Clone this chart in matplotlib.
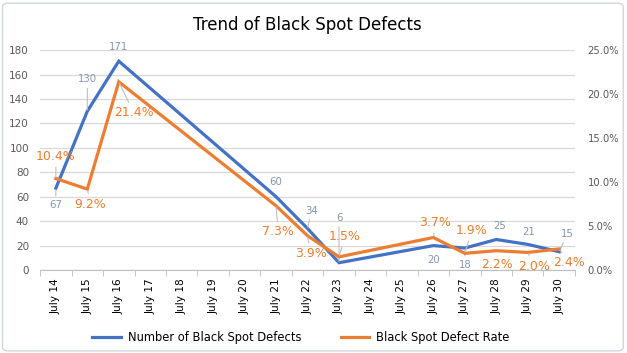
import matplotlib
matplotlib.use("Agg")
import matplotlib.pyplot as plt
from matplotlib.patches import FancyBboxPatch
from matplotlib.ticker import FuncFormatter, MultipleLocator, FixedLocator
import numpy as np

plt.rcParams['font.family'] = ['DejaVu Sans']

categories = ["July 14", "July 15", "July 16", "July 17", "July 18", "July 19", "July 20",
              "July 21", "July 22", "July 23", "July 24", "July 25", "July 26", "July 27",
              "July 28", "July 29", "July 30"]
data_dates = ["July 14", "July 15", "July 16", "July 21", "July 22", "July 23",
              "July 26", "July 27", "July 28", "July 29", "July 30"]
defect_counts = [67, 130, 171, 60, 34, 6, 20, 18, 25, 21, 15]
defect_rates = [10.4, 9.2, 21.4, 7.3, 3.9, 1.5, 3.7, 1.9, 2.2, 2.0, 2.4]

count_label_offsets = [(0, -17), (0, 32), (0, 14), (0, 15), (4, 18), (0, 45),
                       (0, -14), (0, -17), (3, 14), (1, 12), (8, 18)]
rate_label_offsets = [(0, 22), (3, -15), (15, -31), (2, -26), (3, -18), (6, 20),
                      (2, 15), (7, 23), (1, -14), (6, -14), (10, -14)]

blue = '#4472C4'
orange = '#ED7D31'
blue_lbl = '#8496B0'
tick_col = '#595959'
grid_col = '#D9D9D9'

fig = plt.figure(figsize=(6.27, 3.53), dpi=100)
fig.patch.set_facecolor('white')
border = FancyBboxPatch((0.004, 0.006), 0.99, 0.985, boxstyle="round,pad=0,rounding_size=0.01",
                        transform=fig.transFigure, facecolor='none', edgecolor='#D0D5DD',
                        linewidth=1.0, zorder=0)
fig.patches.append(border)

ax = fig.add_axes([0.064, 0.235, 0.853, 0.623])
ax2 = ax.twinx()

xpos = [categories.index(d) for d in data_dates]

ax.set_xlim(-0.5, len(categories) - 0.5)
ax.set_ylim(0, 180)
ax2.set_ylim(0, 25)

ax.yaxis.set_major_locator(MultipleLocator(20))
ax2.yaxis.set_major_locator(MultipleLocator(5))
ax2.yaxis.set_major_formatter(FuncFormatter(lambda v, p: f"{v:.1f}%"))

ax.grid(axis='y', color=grid_col, linewidth=0.9)
ax.set_axisbelow(True)

for a in (ax, ax2):
    for s in a.spines.values():
        s.set_visible(False)
ax.spines['bottom'].set_visible(True)
ax.spines['bottom'].set_color('#BFBFBF')

ax.set_xticks(range(len(categories)))
ax.set_xticklabels(categories, rotation=90, fontsize=7.6, color='black')
ax.tick_params(axis='x', which='major', length=0, pad=6)
ax.xaxis.set_minor_locator(FixedLocator(np.arange(-0.5, len(categories), 1.0)))
ax.tick_params(axis='x', which='minor', length=4, color='#BFBFBF')
ax.tick_params(axis='y', length=0, labelsize=7.5, labelcolor=tick_col, pad=8)
ax2.tick_params(axis='y', length=0, labelsize=7.2, labelcolor=tick_col, pad=9)

l1, = ax.plot(xpos, defect_counts, color=blue, linewidth=2.3, zorder=3,
              label='Number of Black Spot Defects', solid_joinstyle='miter')
l2, = ax2.plot(xpos, defect_rates, color=orange, linewidth=2.3, zorder=3,
               label='Black Spot Defect Rate', solid_joinstyle='miter')

for x, v, (dx, dy) in zip(xpos, defect_counts, count_label_offsets):
    ax.annotate(str(v), (x, v), xytext=(dx, dy), textcoords='offset pixels',
                ha='center', va='center', fontsize=7.3, color=blue_lbl,
                arrowprops=dict(arrowstyle='-', color='#BFBFBF', lw=0.8, shrinkA=1, shrinkB=1)
                if (dx * dx + dy * dy) ** 0.5 > 15 else None, zorder=5)

for x, v, (dx, dy) in zip(xpos, defect_rates, rate_label_offsets):
    ax2.annotate(f"{v:.1f}%", (x, v), xytext=(dx, dy), textcoords='offset pixels',
                 ha='center', va='center', fontsize=9, color=orange,
                 arrowprops=dict(arrowstyle='-', color='#BFBFBF', lw=0.8, shrinkA=1, shrinkB=1)
                 if (dx * dx + dy * dy) ** 0.5 > 15 else None, zorder=5)

fig.text(0.490, 0.930, 'Trend of Black Spot Defects', ha='center', va='center',
         fontsize=12, color='black')

fig.legend(handles=[l1, l2], loc='center', bbox_to_anchor=(0.48, 0.045), ncol=2,
           frameon=False, fontsize=8.3, handlelength=2.5, columnspacing=3.4,
           handletextpad=0.6)

fig.savefig('out.png', dpi=100, facecolor='white')
